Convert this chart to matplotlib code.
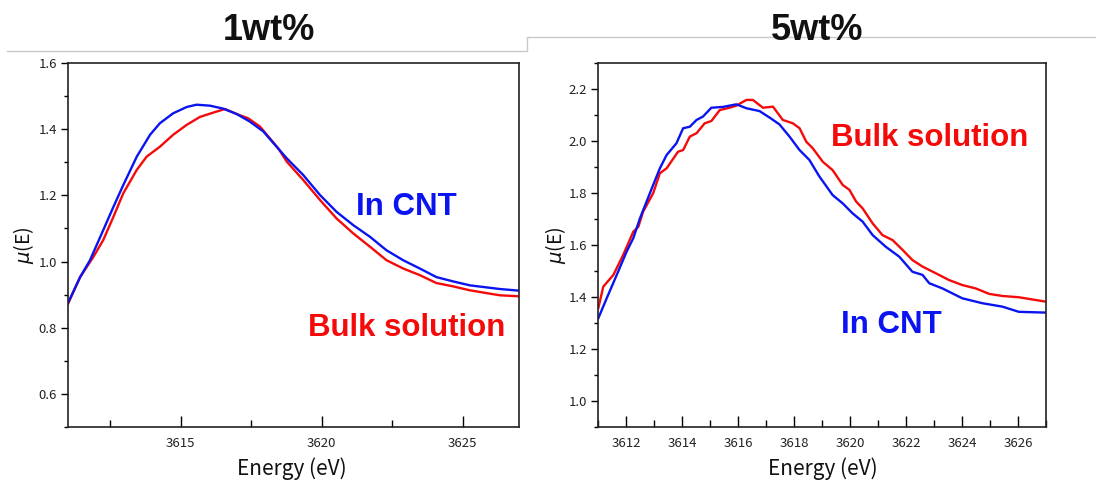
import matplotlib
matplotlib.use("Agg")
import matplotlib.pyplot as plt
from matplotlib.lines import Line2D
from matplotlib.ticker import MultipleLocator, FormatStrFormatter

# 1wt% panel
e_cnt_1 = [3611.0, 3611.43, 3611.78, 3612.25, 3612.61, 3612.96, 3613.44, 3613.91, 3614.26, 3614.73,
           3615.21, 3615.56, 3616.04, 3616.51, 3616.98, 3617.45, 3617.93, 3618.4, 3618.76, 3619.34,
           3619.94, 3620.53, 3621.12, 3621.71, 3622.3, 3622.89, 3623.48, 3624.07, 3624.66, 3625.26,
           3626.32, 3627.0]
mu_cnt_1 = [0.875, 0.953, 1.004, 1.095, 1.165, 1.231, 1.317, 1.383, 1.418, 1.448,
            1.467, 1.474, 1.471, 1.462, 1.446, 1.423, 1.393, 1.347, 1.312, 1.262,
            1.201, 1.15, 1.11, 1.075, 1.034, 1.004, 0.979, 0.953, 0.94, 0.928,
            0.917, 0.912]
e_bulk_1 = [3611.0, 3611.43, 3611.9, 3612.25, 3612.61, 3612.96, 3613.44, 3613.79, 3614.26, 3614.73,
            3615.21, 3615.68, 3616.15, 3616.57, 3616.98, 3617.39, 3617.81, 3618.46, 3618.76, 3619.34,
            3619.94, 3620.53, 3621.12, 3621.71, 3622.3, 3622.89, 3623.48, 3624.07, 3624.66, 3625.26,
            3626.32, 3627.0]
mu_bulk_1 = [0.872, 0.953, 1.014, 1.065, 1.135, 1.206, 1.277, 1.317, 1.347, 1.383,
             1.413, 1.437, 1.45, 1.461, 1.446, 1.433, 1.408, 1.342, 1.302, 1.247,
             1.186, 1.13, 1.085, 1.045, 1.004, 0.979, 0.959, 0.935, 0.925, 0.913,
             0.898, 0.895]

# 5wt% panel
e_cnt_5 = [3611.01, 3611.31, 3611.67, 3612.02, 3612.26, 3612.5, 3612.97, 3613.21, 3613.45, 3613.8,
           3614.04, 3614.28, 3614.52, 3614.75, 3615.05, 3615.46, 3615.94, 3616.3, 3616.77, 3617.13,
           3617.48, 3617.84, 3618.2, 3618.55, 3618.91, 3619.38, 3619.74, 3620.09, 3620.45, 3620.81,
           3621.28, 3621.76, 3622.23, 3622.59, 3622.83, 3623.3, 3624.01, 3624.73, 3625.44, 3626.03,
           3627.0]
mu_cnt_5 = [1.318, 1.395, 1.485, 1.574, 1.626, 1.703, 1.831, 1.895, 1.946, 1.991,
            2.049, 2.055, 2.081, 2.094, 2.128, 2.131, 2.141, 2.126, 2.115, 2.09,
            2.064, 2.017, 1.965, 1.927, 1.863, 1.792, 1.76, 1.722, 1.69, 1.638,
            1.593, 1.555, 1.497, 1.485, 1.453, 1.433, 1.395, 1.376, 1.363, 1.343,
            1.34]
e_bulk_5 = [3611.01, 3611.19, 3611.55, 3611.9, 3612.26, 3612.44, 3612.61, 3612.97, 3613.21, 3613.45,
            3613.86, 3614.04, 3614.28, 3614.52, 3614.81, 3615.05, 3615.35, 3615.7, 3615.94, 3616.3,
            3616.53, 3616.89, 3617.25, 3617.6, 3617.96, 3618.2, 3618.44, 3618.67, 3619.03, 3619.38,
            3619.74, 3619.98, 3620.22, 3620.45, 3620.81, 3621.16, 3621.52, 3621.88, 3622.23, 3622.59,
            3623.07, 3623.54, 3624.01, 3624.49, 3624.97, 3625.44, 3626.03, 3627.0]
mu_bulk_5 = [1.357, 1.44, 1.485, 1.562, 1.651, 1.67, 1.728, 1.799, 1.876, 1.895,
             1.959, 1.965, 2.017, 2.03, 2.068, 2.077, 2.119, 2.128, 2.136, 2.158,
             2.158, 2.128, 2.132, 2.081, 2.068, 2.049, 1.997, 1.972, 1.92, 1.888,
             1.831, 1.812, 1.767, 1.741, 1.683, 1.638, 1.619, 1.581, 1.542, 1.517,
             1.491, 1.465, 1.446, 1.433, 1.412, 1.404, 1.399, 1.382]

titles = ["1wt%", "5wt%"]
blue = "#0a14f0"
red = "#f50a0a"
W, H = 1096, 490

fig = plt.figure(figsize=(10.96, 4.90), dpi=100)

# thin gray header rules
fig.add_artist(Line2D([7/W, 527/W, 527/W, 1.0],
                      [1-51/H, 1-51/H, 1-37/H, 1-37/H],
                      transform=fig.transFigure, color="#c8c8c8", lw=1))

ax1 = fig.add_axes([68/W, 1-427/H, 451/W, 364/H])
ax2 = fig.add_axes([598/W, 1-427/H, 448/W, 364/H])

ax1.plot(e_bulk_1, mu_bulk_1, color=red, lw=1.7)
ax1.plot(e_cnt_1, mu_cnt_1, color=blue, lw=1.7)
ax2.plot(e_bulk_5, mu_bulk_5, color=red, lw=1.7)
ax2.plot(e_cnt_5, mu_cnt_5, color=blue, lw=1.7)

ax1.set_xlim(3611, 3627)
ax1.set_ylim(0.5, 1.6)
ax1.xaxis.set_major_locator(MultipleLocator(5))
ax1.xaxis.set_minor_locator(MultipleLocator(2.5))

ax2.set_xlim(3611, 3627)
ax2.set_ylim(0.9, 2.3)
ax2.xaxis.set_major_locator(MultipleLocator(2))
ax2.xaxis.set_minor_locator(MultipleLocator(1))

for ax in (ax1, ax2):
    ax.yaxis.set_major_locator(MultipleLocator(0.2))
    ax.yaxis.set_minor_locator(MultipleLocator(0.1))
    ax.yaxis.set_major_formatter(FormatStrFormatter("%.1f"))
    for s in ax.spines.values():
        s.set_linewidth(1.2)
        s.set_color("#222222")
    ax.tick_params(axis="x", which="major", direction="in", length=8, width=1, pad=7)
    ax.tick_params(axis="x", which="minor", direction="in", length=5, width=1)
    ax.tick_params(axis="y", which="major", direction="out", length=5, width=1, pad=3)
    ax.tick_params(axis="y", which="minor", direction="out", length=3, width=1)
    for lab in ax.get_xticklabels() + ax.get_yticklabels():
        lab.set_fontfamily("Noto Sans CJK JP")
        lab.set_fontsize(9.5)
        lab.set_color("#222222")

# annotations
txt = dict(fontsize=22.5, fontweight="bold", family="Liberation Sans", ha="left", va="center")
ax1.text(3621.2, 1.165, "In CNT", color=blue, **txt)
ax1.text(3619.5, 0.8, "Bulk solution", color=red, **txt)
ax2.text(3619.32, 2.01, "Bulk solution", color=red, **txt)
ax2.text(3619.67, 1.292, "In CNT", color=blue, **txt)

# titles and axis labels
for xc, t in zip([269/W, 817/W], titles):
    fig.text(xc, 1-31/H, t, fontsize=26, fontweight="bold", family="Liberation Sans",
             ha="center", va="center", color="#111111")
for xc in [292/W, 823/W]:
    fig.text(xc, 1-469/H, "Energy (eV)", fontsize=15, family="Noto Sans CJK JP",
             ha="center", va="center", color="#111111")
for xc in [23/W, 556/W]:
    fig.text(xc, 1-245/H, r"$\mu$(E)", fontsize=14, family="Noto Sans CJK JP",
             ha="center", va="center", rotation=90, color="#111111")

fig.savefig("out.png", dpi=100)
